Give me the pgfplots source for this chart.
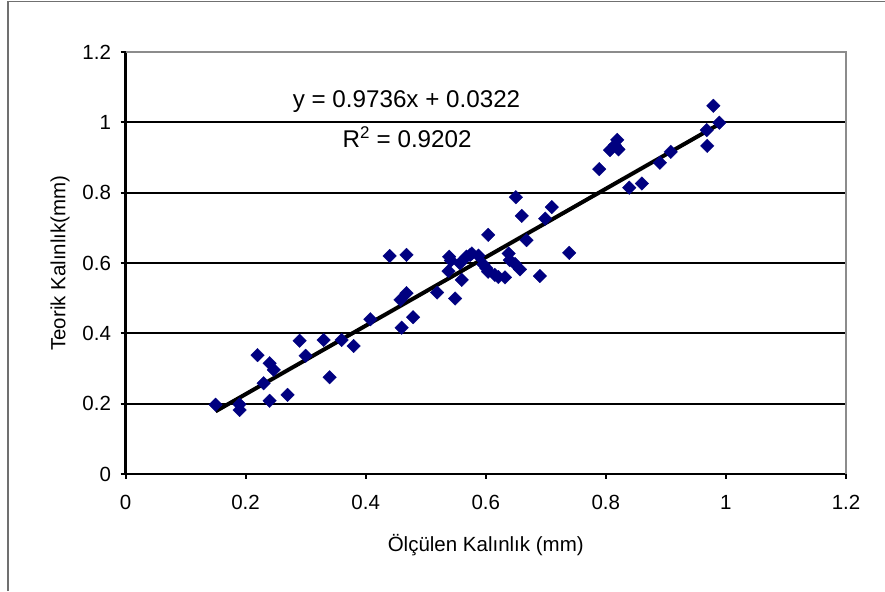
\documentclass[border=0pt]{standalone}
\usepackage{fontspec}
\setmainfont{Liberation Sans}
\usepackage{pgfplots}
\pgfplotsset{compat=1.18}
\definecolor{markblue}{HTML}{000080}
\definecolor{framegray}{HTML}{707070}
\definecolor{plotgray}{HTML}{8C8C8C}
\begin{document}
\begin{tikzpicture}
\useasboundingbox (0pt,0pt) rectangle (885pt,591pt);
\fill[white] (0pt,0pt) rectangle (885pt,591pt);
\draw[framegray, line width=1.6pt] (8pt,0pt) -- (8pt,589.5pt) -- (885pt,589.5pt);
\begin{axis}[
  at={(125.5pt,117pt)}, anchor=south west,
  scale only axis, width=720.5pt, height=422pt,
  xmin=0, xmax=1.2, ymin=0, ymax=1.2,
  xtick={0,0.2,0.4,0.6,0.8,1,1.2},
  ytick={0,0.2,0.4,0.6,0.8,1,1.2},
  xticklabels={0,0.2,0.4,0.6,0.8,1,1.2},
  yticklabels={0,0.2,0.4,0.6,0.8,1,1.2},
  axis x line*=bottom, axis y line*=left,
  axis line style={line width=2.2pt, black, -},
  tick align=outside, major tick length=5pt,
  tick style={line width=2pt, black},
  ymajorgrids, grid style={line width=2pt, black},
  tick label style={font=\fontsize{20.5}{24}\selectfont},
  xticklabel style={yshift=-13pt},
  yticklabel style={xshift=-6pt},
  xlabel={Ölçülen Kalınlık (mm)},
  ylabel={Teorik Kalınlık(mm)},
  label style={font=\fontsize{20.5}{24}\selectfont},
  xlabel style={at={(axis description cs:0.5,-0.168)}, anchor=center},
  ylabel style={at={(axis description cs:-0.0909,0.5)}, anchor=center},
  clip=false,
]
\addplot[only marks, mark=square*, mark size=4.8pt, color=markblue,
  mark options={rotate=45, fill=markblue, draw=markblue, line width=0.3pt}]
coordinates {
(0.150,0.197) (0.190,0.198) (0.190,0.182) (0.220,0.338) (0.240,0.315)
(0.247,0.296) (0.230,0.258) (0.240,0.208) (0.270,0.225) (0.290,0.379)
(0.300,0.336) (0.330,0.381) (0.340,0.275) (0.360,0.381) (0.380,0.364)
(0.408,0.440) (0.440,0.620) (0.468,0.623) (0.468,0.514) (0.458,0.495)
(0.479,0.446) (0.460,0.416) (0.519,0.516) (0.538,0.577) (0.539,0.618)
(0.542,0.607) (0.560,0.552) (0.549,0.499) (0.557,0.599) (0.568,0.618)
(0.574,0.623) (0.577,0.627) (0.588,0.621) (0.596,0.596) (0.601,0.585)
(0.604,0.575) (0.615,0.566) (0.621,0.560) (0.632,0.559) (0.638,0.627)
(0.640,0.608) (0.649,0.597) (0.657,0.582) (0.604,0.680) (0.650,0.787)
(0.660,0.734) (0.668,0.665) (0.690,0.563) (0.699,0.726) (0.710,0.759)
(0.739,0.629) (0.789,0.867) (0.807,0.921) (0.815,0.935) (0.819,0.950)
(0.821,0.923) (0.839,0.814) (0.860,0.826) (0.890,0.885) (0.908,0.916)
(0.968,0.978) (0.969,0.933) (0.979,1.047) (0.989,0.999)
};
\addplot[black, line width=4pt, no marks] coordinates {(0.15,0.17824) (0.99,0.99606)};
\draw[plotgray, line width=2.4pt] (rel axis cs:0,1) -- (rel axis cs:1,1) -- (rel axis cs:1,0);
\node[font=\fontsize{24.2}{28}\selectfont, anchor=center] at (axis cs:0.468,1.0586) {y = 0.9736x + 0.0322};
\node[font=\fontsize{24.2}{28}\selectfont, anchor=center] at (axis cs:0.469,0.959) {R\textsuperscript{2} = 0.9202};
\end{axis}
\end{tikzpicture}
\end{document}
